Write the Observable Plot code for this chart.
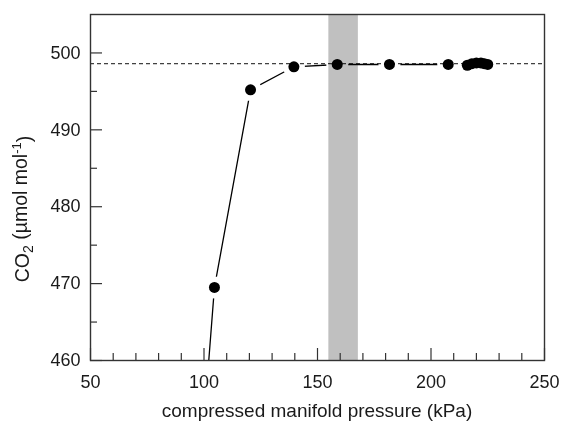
<!DOCTYPE html>
<html>
<head>
<meta charset="utf-8">
<script src="https://cdn.jsdelivr.net/npm/d3@7"></script>
<script src="https://cdn.jsdelivr.net/npm/@observablehq/plot@0.6"></script>
<style>
  html, body { margin: 0; padding: 0; background: white; }
</style>
</head>
<body>
<div id="chart"></div>
<script>
// Data
const pressure = [100, 104.6, 120.5, 139.6, 158.7, 181.7, 207.6, 216, 218, 220, 222, 223.5, 225];
const co2      = [452, 469.5, 495.2, 498.2, 498.5, 498.5, 498.5, 498.4, 498.6, 498.7, 498.7, 498.6, 498.5];
const referenceLevel = [498.6];
const band = [[155, 168]];

const xMajorTicks = [50, 100, 150, 200, 250];
const xMinorTicks = [60, 70, 80, 90, 110, 120, 130, 140, 160, 170, 180, 190, 210, 220, 230, 240];
const yMajorTicks = [460, 470, 480, 490, 500];
const yMinorTicks = [465, 475, 485, 495];

const xLabel = "compressed manifold pressure (kPa)";

const data = pressure.map((p, i) => ({p, c: co2[i]}));

const W = 561, H = 425;
const mL = 90, mR = 17, mT = 14, mB = 65;
const plotW = W - mL - mR, plotH = H - mT - mB;
const axisColor = "#333";

const chart = Plot.plot({
  width: W,
  height: H,
  marginLeft: mL,
  marginRight: mR,
  marginTop: mT,
  marginBottom: mB,
  style: {fontFamily: "'Liberation Sans', Arial, sans-serif", fontSize: "18px", background: "white", color: "#1a1a1a"},
  x: {domain: [50, 250]},
  y: {domain: [460, 505]},
  marks: [
    Plot.line(data, {x: "p", y: "c", stroke: "black", strokeWidth: 1.3, clip: true}),
    Plot.dot(data, {x: "p", y: "c", r: 11, fill: "white", stroke: "none", clip: true}),
    Plot.ruleY(referenceLevel, {stroke: "#111", strokeWidth: 1, strokeDasharray: "4,3"}),
    Plot.rect(band, {x1: d => d[0], x2: d => d[1], fill: "#c0c0c0", mixBlendMode: "multiply"}),
    Plot.dot(data, {x: "p", y: "c", r: 5.5, fill: "black", clip: true}),
    Plot.tickX(xMajorTicks, {x: d => d, insetTop: plotH - 12, stroke: axisColor, strokeWidth: 1.2}),
    Plot.tickX(xMinorTicks, {x: d => d, insetTop: plotH - 7, stroke: axisColor, strokeWidth: 1.2}),
    Plot.tickY(yMajorTicks, {y: d => d, insetRight: plotW - 12, stroke: axisColor, strokeWidth: 1.2}),
    Plot.tickY(yMinorTicks, {y: d => d, insetRight: plotW - 7, stroke: axisColor, strokeWidth: 1.2}),
    Plot.frame({stroke: axisColor, strokeWidth: 1.4}),
    Plot.axisX({ticks: xMajorTicks, tickSize: 0, tickPadding: 15, label: null, fontSize: 18}),
    Plot.axisY({ticks: yMajorTicks, tickSize: 0, tickPadding: 10, label: null, fontSize: 18})
  ]
});

document.getElementById("chart").appendChild(chart);

// Axis titles as real text
const svg = d3.select(chart);
svg.append("text")
  .attr("x", mL + plotW / 2)
  .attr("y", 417)
  .attr("text-anchor", "middle")
  .attr("font-size", 19)
  .attr("fill", "#1a1a1a")
  .text(xLabel);

const yl = svg.append("text")
  .attr("transform", "translate(29,209) rotate(-90)")
  .attr("text-anchor", "middle")
  .attr("font-size", 19.5)
  .attr("fill", "#1a1a1a");
yl.append("tspan").text("CO");
yl.append("tspan").attr("font-size", 14).attr("dy", "0.3em").text("2");
yl.append("tspan").attr("dy", "-0.3em").text(" (µmol mol");
yl.append("tspan").attr("font-size", 13).attr("dy", "-0.5em").text("-1");
yl.append("tspan").attr("dy", "0.5em").text(")");
</script>
</body>
</html>
